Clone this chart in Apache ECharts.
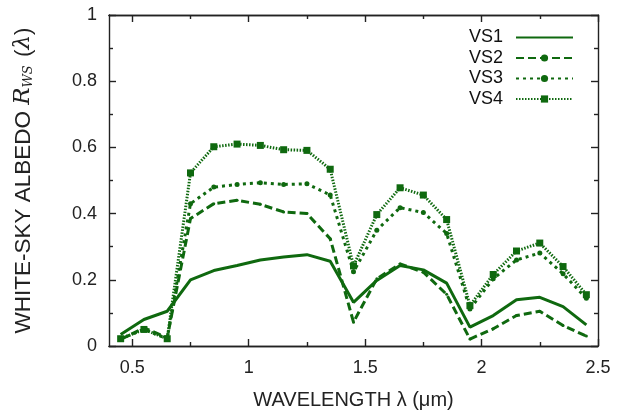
<!DOCTYPE html>
<html>
<head>
<meta charset="utf-8">
<script src="https://cdn.jsdelivr.net/npm/echarts@6/dist/echarts.min.js"></script>
<style>html,body{margin:0;padding:0;background:#fff}#c{width:623px;height:410px}</style>
</head>
<body>
<div id="c"></div>
<script>
var wavelengths = [0.45,0.55,0.65,0.75,0.85,0.95,1.05,1.15,1.25,1.35,1.45,1.55,1.65,1.75,1.85,1.95,2.05,2.15,2.25,2.35,2.45];
var vs1 = [0.035,0.080,0.105,0.200,0.228,0.243,0.260,0.269,0.276,0.256,0.132,0.198,0.243,0.230,0.190,0.057,0.092,0.140,0.147,0.119,0.064];
var vs2 = [0.020,0.055,0.025,0.385,0.430,0.440,0.428,0.405,0.400,0.324,0.072,0.203,0.248,0.223,0.156,0.021,0.052,0.092,0.105,0.062,0.030];
var vs3 = [0.022,0.050,0.022,0.430,0.480,0.488,0.493,0.488,0.490,0.456,0.224,0.350,0.418,0.403,0.340,0.112,0.203,0.260,0.281,0.218,0.144];
var vs4 = [0.022,0.050,0.022,0.523,0.602,0.610,0.606,0.593,0.591,0.534,0.242,0.397,0.478,0.456,0.382,0.122,0.216,0.287,0.311,0.240,0.155];
var seriesNames = ['VS1','VS2','VS3','VS4'];
var xMajorTicks = [0.5,1,1.5,2,2.5];
var xMinorTicks = [0.75,1.25,1.75,2.25];

var green = '#0f690f';
function pairs(ys){ return wavelengths.map(function(x,i){ return [x, ys[i]]; }); }

var font = 'Liberation Sans, Arial, sans-serif';
function xAxisDef(pos, ticks, len, showLabel, extra) {
  var a = {
    type: 'value', position: pos, min: 0.4, max: 2.5,
    axisLine: { show: true, onZero: false, lineStyle: { color: '#222', width: 1.4 } },
    axisTick: { show: true, inside: true, length: len, customValues: ticks, lineStyle: { color: '#222', width: 1.4 } },
    axisLabel: { show: showLabel, customValues: ticks, color: '#222', fontSize: 18, fontFamily: font, margin: 13 },
    splitLine: { show: false }
  };
  for (var k in extra) a[k] = extra[k];
  return a;
}
function yAxisDef(pos, showLabel, extra) {
  var a = {
    type: 'value', position: pos, min: 0, max: 1, interval: 0.2,
    axisLine: { show: true, onZero: false, lineStyle: { color: '#222', width: 1.4 } },
    axisTick: { show: true, inside: true, length: 7, lineStyle: { color: '#222', width: 1.4 } },
    minorTick: { show: true, splitNumber: 2, length: 4, lineStyle: { color: '#222', width: 1.4 } },
    axisLabel: { show: showLabel, color: '#222', fontSize: 18, fontFamily: font, margin: 12,
      formatter: function(v){ return String(Math.round(v*10)/10); } },
    splitLine: { show: false }
  };
  for (var k in extra) a[k] = extra[k];
  return a;
}

var chart = echarts.init(document.getElementById('c'), null, { renderer: 'canvas' });
var option = {
  animation: false,
  backgroundColor: '#fff',
  grid: { left: 109, right: 25, top: 15, bottom: 64, containLabel: false, outerBoundsMode: 'none' },
  legend: {
    orient: 'vertical', right: 44, top: 23, align: 'right',
    itemWidth: 57, itemHeight: 9, itemGap: 1.5,
    textStyle: { fontSize: 18, lineHeight: 19, fontFamily: font, color: '#111', padding: [0, 8, 0, 0] },
    data: [
      { name: 'VS1', itemStyle: { opacity: 0 } },
      { name: 'VS2' },
      { name: 'VS3' },
      { name: 'VS4' }
    ]
  },
  xAxis: [
    xAxisDef('bottom', xMajorTicks, 7, true, {
      name: 'WAVELENGTH λ (μm)', nameLocation: 'middle', nameGap: 44,
      nameTextStyle: { fontSize: 20, fontFamily: font, color: '#222' }
    }),
    xAxisDef('bottom', xMinorTicks, 4, false, {}),
    xAxisDef('top', xMajorTicks, 7, false, {}),
    xAxisDef('top', xMinorTicks, 4, false, {})
  ],
  yAxis: [
    yAxisDef('left', true, {
      name: '{a|WHITE-SKY ALBEDO }{i|R}{s|WS}{a| (}{i|λ}{a|)}',
      nameLocation: 'middle', nameGap: 74, nameRotate: 90,
      nameTextStyle: {
        rich: {
          a: { fontSize: 22.5, fontFamily: font, color: '#222' },
          i: { fontSize: 23, fontFamily: 'DejaVu Serif, Liberation Serif, serif', fontStyle: 'italic', color: '#222' },
          s: { fontSize: 13, fontFamily: 'DejaVu Serif, Liberation Serif, serif', fontStyle: 'italic', color: '#222', padding: [10, 2, 0, 0] }
        }
      }
    }),
    yAxisDef('right', false, {})
  ],
  series: [
    { name: 'VS1', type: 'line', data: pairs(vs1), symbol: 'none',
      lineStyle: { color: green, width: 3 }, itemStyle: { color: green } },
    { name: 'VS2', type: 'line', data: pairs(vs2), symbol: 'circle', symbolSize: 3,
      lineStyle: { color: green, width: 3, type: [8, 4] }, itemStyle: { color: green } },
    { name: 'VS3', type: 'line', data: pairs(vs3), symbol: 'circle', symbolSize: 5,
      lineStyle: { color: green, width: 3, type: [3, 4] }, itemStyle: { color: green } },
    { name: 'VS4', type: 'line', data: pairs(vs4), symbol: 'rect', symbolSize: 7,
      lineStyle: { color: green, width: 3, type: [1.5, 1.5] }, itemStyle: { color: green } }
  ]
};
chart.setOption(option);
</script>
</body>
</html>
